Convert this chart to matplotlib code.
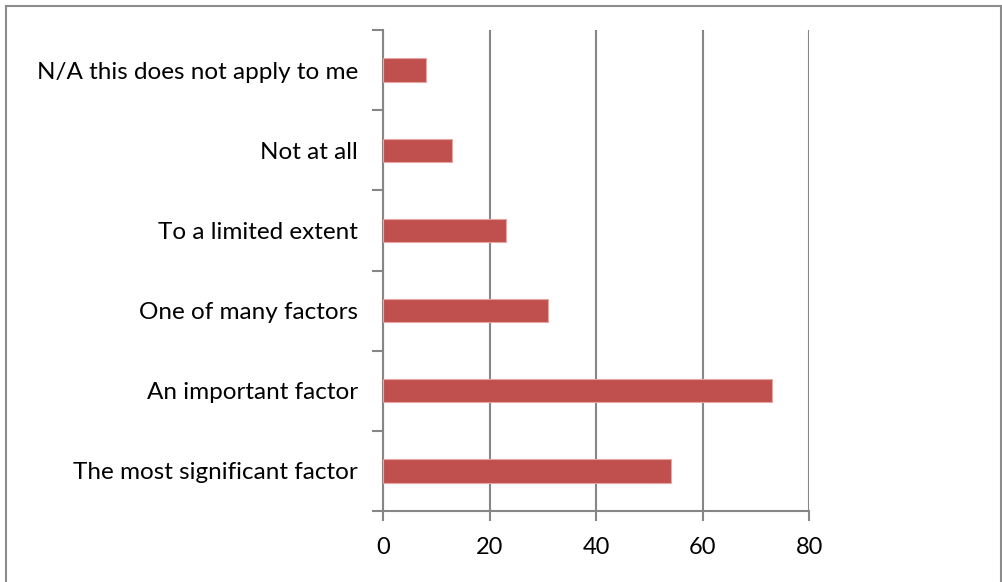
import matplotlib
matplotlib.use("Agg")
import matplotlib.pyplot as plt
from matplotlib.lines import Line2D

categories = [
    "The most significant factor",
    "An important factor",
    "One of many factors",
    "To a limited extent",
    "Not at all",
    "N/A this does not apply to me",
]
values = [54, 73, 31, 23, 13, 8]
x_ticks = [0, 20, 40, 60, 80]

plt.rcParams["font.family"] = ["Lato", "DejaVu Sans"]

W, H = 1002, 582
fig = plt.figure(figsize=(W / 100, H / 100), dpi=100)
ax = fig.add_axes([383 / W, 1 - 511 / H, (809.3 - 383) / W, (511 - 30) / H])

grid_color = "#868686"
bar_color = "#C0504D"

ypos = list(range(len(categories)))
ax.barh(ypos, values, height=0.29, color=bar_color,
        edgecolor="#E6A5A3", linewidth=0.8, zorder=3)

ax.set_xlim(0, 80)
ax.set_ylim(-0.5, len(categories) - 0.5)
ax.set_xticks(x_ticks)
ax.set_xticklabels([str(t) for t in x_ticks], fontsize=17)
ax.set_yticks(ypos)
ax.set_yticklabels(categories, fontsize=17.5)
ax.tick_params(axis="y", length=0, pad=18)
ax.tick_params(axis="x", length=7, width=1.5, color=grid_color, pad=12)

# category separators on the left axis
ax.set_yticks([i - 0.5 for i in range(len(categories) + 1)], minor=True)
ax.tick_params(axis="y", which="minor", length=8, width=1.5, color=grid_color)

ax.grid(axis="x", color=grid_color, linewidth=1.5, zorder=0)
for side in ("top", "right"):
    ax.spines[side].set_visible(False)
for side in ("left", "bottom"):
    ax.spines[side].set_color(grid_color)
    ax.spines[side].set_linewidth(1.5)

# chart frame
frame_kw = dict(color="#8C8C8C", linewidth=1.5, transform=fig.transFigure)
fig.add_artist(Line2D([6 / W, 1001 / W], [1 - 6 / H, 1 - 6 / H], **frame_kw))
fig.add_artist(Line2D([6 / W, 6 / W], [0, 1 - 6 / H], **frame_kw))
fig.add_artist(Line2D([1001 / W, 1001 / W], [0, 1 - 6 / H], **frame_kw))

fig.savefig("out.png", dpi=100)
